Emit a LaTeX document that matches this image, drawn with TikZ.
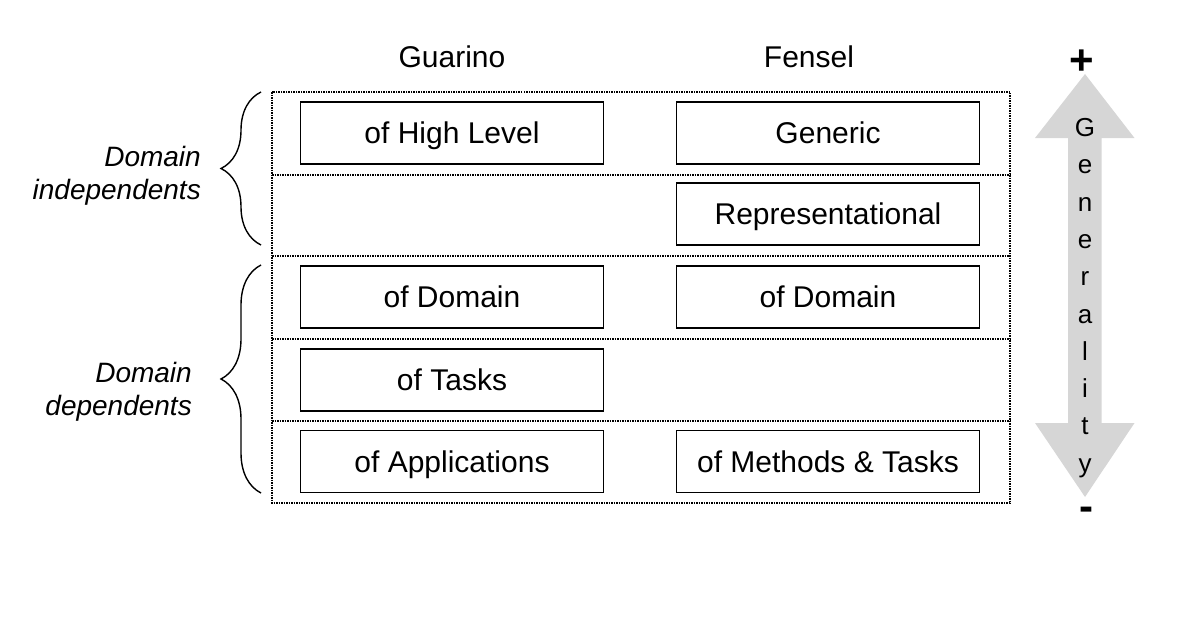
\documentclass[tikz,border=0pt]{standalone}
\usepackage{fontspec}
\setmainfont{Liberation Sans}
\usetikzlibrary{decorations.pathreplacing}
\begin{document}
\begin{tikzpicture}[x=1pt,y=-1pt,
  cell/.style={draw, line width=1.6pt, minimum width=303pt, minimum height=62pt,
    inner sep=0pt, text height=24pt, text depth=2.5pt,
    font=\fontsize{30}{34}\selectfont},
  head/.style={inner sep=0pt, text height=24pt, text depth=2.5pt,
    font=\fontsize{30}{34}\selectfont},
  grouplabel/.style={inner sep=0pt, anchor=east, align=right,
    font=\fontsize{28}{33}\selectfont\itshape},
  frame/.style={densely dotted, line width=1.5pt},
  bracket/.style={decorate, decoration={brace, amplitude=40pt}, line width=1.4pt},
  letter/.style={inner sep=0pt, text height=18pt, text depth=4pt,
    font=\fontsize{26}{30}\selectfont},
  sign/.style={inner sep=0pt, font=\fontsize{42}{46}\selectfont\bfseries}]
\useasboundingbox (0,0) rectangle (1202,626);

% column headings
\node[head] (guarino) at (452,57) {Guarino};
\node[head] (fensel) at (809,57) {Fensel};

% dotted outer frame and row separators
\draw[frame] (272,92) rectangle (1010,503);
\foreach \yy in {175,256,339,421}
  \draw[frame] (272,\yy) -- (1010,\yy);

% Guarino column
\node[cell] (highlevel) at (452,133) {of High Level};
\node[cell] (gdomain) at (452,297) {of Domain};
\node[cell] (tasks) at (452,380) {of Tasks};
\node[cell] (applications) at (452,461.5) {of Applications};

% Fensel column
\node[cell] (generic) at (828,133) {Generic};
\node[cell] (representational) at (828,214) {Representational};
\node[cell] (fdomain) at (828,297) {of Domain};
\node[cell] (methods) at (828,461.5) {of Methods \& Tasks};

% braces grouping the rows
\coordinate (indepbot) at (261,245);
\coordinate (indeptop) at (261,92);
\coordinate (depbot) at (261,493);
\coordinate (deptop) at (261,265);
\draw[bracket] (indepbot) -- (indeptop);
\draw[bracket] (depbot) -- (deptop);
\node[grouplabel] (independents) at (201,176) {Domain\\independents};
\node[grouplabel] (dependents) at (192,392) {Domain\\dependents};

% generality double arrow
\fill[black!16] (1085,74) -- (1134.5,138) -- (1101.5,138) -- (1101.5,423)
  -- (1134.5,423) -- (1085,497) -- (1035,423) -- (1068,423) -- (1068,138)
  -- (1035,138) -- cycle;
\foreach \ch [count=\n from 0] in {G,e,n,e,r,a,l,i,t,y}
  \node[letter] (gen-\n) at (1085,{129.5+37.3*\n}) {\ch};
\node[sign] (plus) at (1082,62) {+};
\node[sign] (minus) at (1086,514) {-};
\end{tikzpicture}
\end{document}
